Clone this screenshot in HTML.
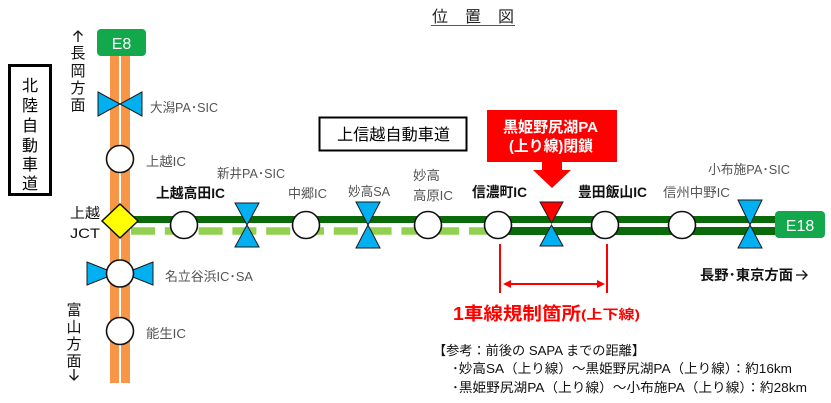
<!DOCTYPE html>
<html><head><meta charset="utf-8"><style>
html,body{margin:0;padding:0;background:#fff;}
svg{display:block;}
text{font-family:"Liberation Sans","Noto Sans CJK JP",sans-serif;}
.g{fill:#555;font-size:13px;}
.b{fill:#111;font-size:14px;font-weight:bold;}
.v{font-size:15px;fill:#111;text-anchor:middle;}
</style></head><body>
<svg width="831" height="403" viewBox="0 0 831 403" xmlns="http://www.w3.org/2000/svg">
<!-- title -->
<text x="432" y="22" font-size="16" fill="#222" textLength="82" lengthAdjust="spacing">位置図</text>
<line x1="431" y1="25.5" x2="515" y2="25.5" stroke="#555" stroke-width="1"/>

<!-- left box -->
<rect x="9.5" y="65.5" width="41" height="129" fill="#fff" stroke="#000" stroke-width="3"/>
<g font-size="16" fill="#000" text-anchor="middle">
<text x="30" y="91">北</text><text x="30" y="111">陸</text><text x="30" y="131">自</text>
<text x="30" y="151">動</text><text x="30" y="170">車</text><text x="30" y="189">道</text>
</g>

<!-- vertical labels -->
<g stroke="#111" stroke-width="1.3" fill="none">
<line x1="78" y1="31" x2="78" y2="42"/><polyline points="73.5,35.5 78,31 82.5,35.5"/>
<line x1="74" y1="369" x2="74" y2="380"/><polyline points="69.5,375.5 74,380 78.5,375.5"/>
</g>
<text class="v" x="78" y="58">長</text>
<text class="v" x="78" y="76">岡</text>
<text class="v" x="78" y="93">方</text>
<text class="v" x="78" y="110">面</text>

<text class="v" x="74" y="315">富</text>
<text class="v" x="74" y="332">山</text>
<text class="v" x="74" y="349">方</text>
<text class="v" x="74" y="366">面</text>

<!-- orange road -->
<rect x="110" y="55" width="9" height="328" fill="#f79646"/>
<rect x="121" y="55" width="9" height="328" fill="#f79646"/>

<!-- E8 -->
<rect x="97" y="29" width="49" height="27" rx="4" fill="#14a84c"/>
<text x="121.5" y="49" font-size="16" fill="#fff" text-anchor="middle">E8</text>

<!-- green lines -->
<rect x="130" y="216" width="647" height="7" fill="#0a6a0a"/>
<line x1="131" y1="231" x2="490" y2="231" stroke="#92d050" stroke-width="7.5" stroke-dasharray="24 9.8"/>
<rect x="490" y="227" width="287" height="8" fill="#0a6a0a"/>

<!-- E18 -->
<rect x="775" y="211" width="50" height="27" rx="4" fill="#14a84c"/>
<text x="800" y="231" font-size="16" fill="#fff" text-anchor="middle">E18</text>

<!-- blue bowties -->
<g fill="#00b0f0" stroke="#1a1a1a" stroke-width="1" stroke-linejoin="miter">
<polygon points="98,92 98,116 120,104"/><polygon points="142,92 142,116 120,104"/>
<polygon points="235,203 259,203 247,225"/><polygon points="235,247 259,247 247,225"/>
<polygon points="356,202 380,202 368,225"/><polygon points="356,248 380,248 368,225"/>
<polygon points="540,246 563,246 551.5,225"/>
<polygon points="738,200 762,200 750,225"/><polygon points="738,248 762,248 750,225"/>
<polygon points="87,262 87,285 116,273.5"/><polygon points="153,262 153,285 124,273.5"/>
</g>
<polygon points="540,202 563,202 551.5,223" fill="#ff0000" stroke="#1a1a1a" stroke-width="1"/>

<!-- circles -->
<g fill="#fff" stroke="#111" stroke-width="1.6">
<circle cx="120" cy="159" r="13.5"/>
<circle cx="120" cy="273.5" r="13.5"/>
<circle cx="120" cy="331" r="13.5"/>
<circle cx="184" cy="225" r="13.5"/>
<circle cx="306" cy="225" r="13.5"/>
<circle cx="428" cy="225" r="13.5"/>
<circle cx="498" cy="225" r="13.5"/>
<circle cx="605" cy="225" r="13.5"/>
<circle cx="682" cy="225" r="13.5"/>
</g>

<!-- JCT diamond -->
<polygon points="120,204 138,221 120,238 102,221" fill="#ffff00" stroke="#111" stroke-width="1.5"/>
<text x="70" y="218" font-size="14" fill="#111" textLength="30" lengthAdjust="spacingAndGlyphs">上越</text>
<text x="70" y="238" font-size="14" fill="#111" textLength="30" lengthAdjust="spacingAndGlyphs">JCT</text>

<!-- left labels -->
<text class="g" x="150" y="112" textLength="68" lengthAdjust="spacingAndGlyphs">大潟PA･SIC</text>
<text class="g" x="146" y="166" textLength="40" lengthAdjust="spacingAndGlyphs">上越IC</text>
<text class="g" x="165" y="281" textLength="88" lengthAdjust="spacingAndGlyphs">名立谷浜IC･SA</text>
<text class="g" x="146" y="338" textLength="40" lengthAdjust="spacingAndGlyphs">能生IC</text>

<!-- line labels -->
<text class="g" x="217" y="178" textLength="68" lengthAdjust="spacingAndGlyphs">新井PA･SIC</text>
<text class="b" x="156" y="198" textLength="69" lengthAdjust="spacingAndGlyphs">上越高田IC</text>
<text class="g" x="288" y="198" textLength="39" lengthAdjust="spacingAndGlyphs">中郷IC</text>
<text class="g" x="348" y="196" textLength="42" lengthAdjust="spacingAndGlyphs">妙高SA</text>
<text class="g" x="413" y="180" textLength="27" lengthAdjust="spacingAndGlyphs">妙高</text>
<text class="g" x="413" y="200" textLength="40" lengthAdjust="spacingAndGlyphs">高原IC</text>
<text x="472" y="197" font-size="14" fill="#111" textLength="55" lengthAdjust="spacingAndGlyphs" style="font-weight:600">信濃町IC</text>
<text class="b" x="578" y="197" textLength="69" lengthAdjust="spacingAndGlyphs">豊田飯山IC</text>
<text class="g" x="663" y="197" textLength="67" lengthAdjust="spacingAndGlyphs">信州中野IC</text>
<text class="g" x="708" y="174" textLength="82" lengthAdjust="spacingAndGlyphs">小布施PA･SIC</text>
<text class="b" x="700" y="280" textLength="93" lengthAdjust="spacingAndGlyphs">長野･東京方面</text>
<g stroke="#111" stroke-width="1.3" fill="none">
<line x1="796" y1="275" x2="807" y2="275"/><polyline points="802.5,270.5 807,275 802.5,279.5"/>
</g>

<!-- highway name box -->
<rect x="319.5" y="117.5" width="147" height="33" fill="#fff" stroke="#000" stroke-width="2"/>
<text x="337" y="140" font-size="16" fill="#000" textLength="113" lengthAdjust="spacingAndGlyphs">上信越自動車道</text>

<!-- red callout -->
<rect x="487" y="110" width="130" height="52" fill="#ff0000"/>
<polygon points="542,161 562,161 562,170 571,170 552,188 533,170 542,170" fill="#ff0000"/>
<text x="503" y="132" font-size="15" fill="#fff" font-weight="bold" textLength="95" lengthAdjust="spacingAndGlyphs">黒姫野尻湖PA</text>
<text x="509" y="151" font-size="15" fill="#fff" font-weight="bold" textLength="84" lengthAdjust="spacingAndGlyphs">(上り線)閉鎖</text>

<!-- red regulation -->
<g stroke="#ff0000" stroke-width="2">
<line x1="500" y1="244" x2="500" y2="293"/>
<line x1="607" y1="244" x2="607" y2="293"/>
<line x1="508" y1="284" x2="600" y2="284"/>
</g>
<polygon points="503,284 511,280 511,288" fill="#ff0000"/>
<polygon points="605,284 597,280 597,288" fill="#ff0000"/>
<text x="453" y="320" font-size="18" fill="#ff0000" font-weight="bold" textLength="128" lengthAdjust="spacingAndGlyphs">1車線規制箇所</text>
<text x="581" y="319" font-size="13" fill="#ff0000" font-weight="bold" textLength="59" lengthAdjust="spacingAndGlyphs">(上下線)</text>

<!-- notes -->
<text x="433" y="355" font-size="13" fill="#111" textLength="212" lengthAdjust="spacingAndGlyphs">【参考：前後の SAPA までの距離】</text>
<text x="452" y="373" font-size="13" fill="#111" textLength="340" lengthAdjust="spacingAndGlyphs">･妙高SA（上り線）～黒姫野尻湖PA（上り線）：約16km</text>
<text x="452" y="392" font-size="13" fill="#111" textLength="355" lengthAdjust="spacingAndGlyphs">･黒姫野尻湖PA（上り線）～小布施PA（上り線）：約28km</text>
</svg>
</body></html>
